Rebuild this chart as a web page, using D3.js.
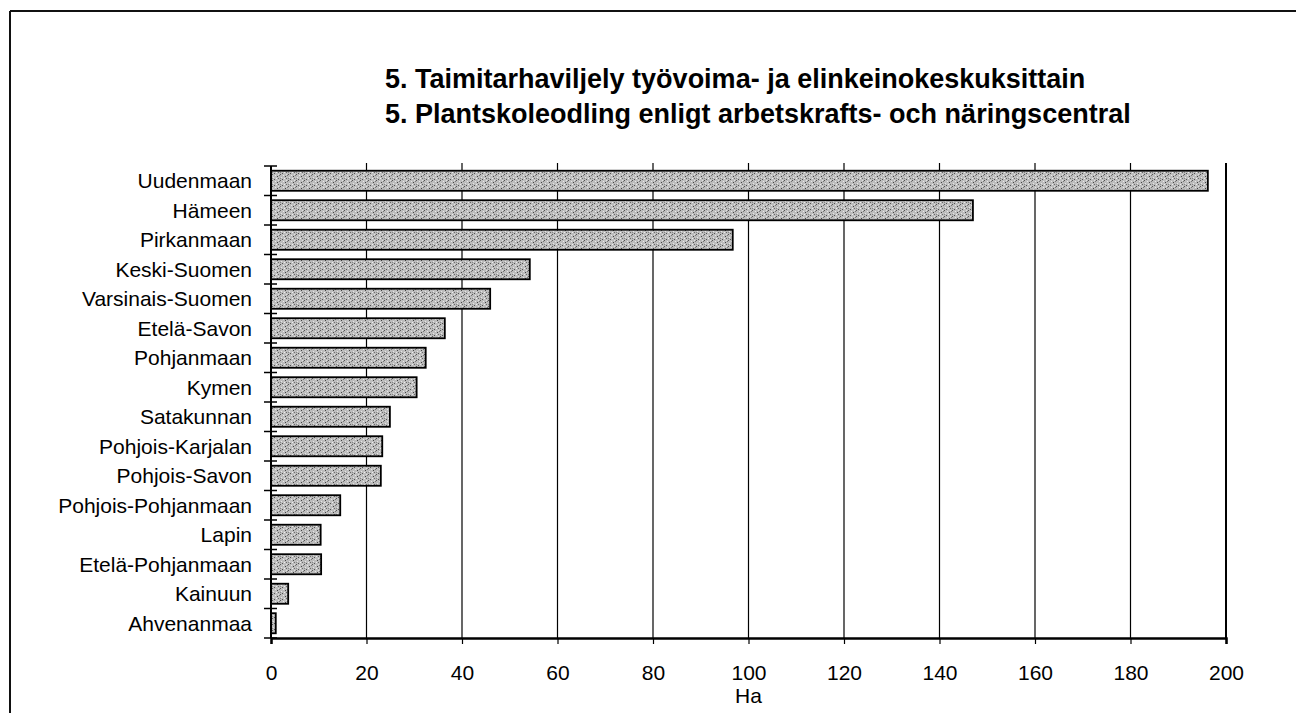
<!DOCTYPE html>
<html>
<head>
<meta charset="utf-8">
<script src="https://cdn.jsdelivr.net/npm/d3@7"></script>
<style>
  html, body { margin: 0; padding: 0; background: #fff; }
  svg { display: block; }
  text { font-family: "Liberation Sans", Arial, Helvetica, sans-serif; fill: #000; }
</style>
</head>
<body>
<svg id="chart" width="1296" height="713"></svg>
<script>
const titleLines = [
  "5. Taimitarhaviljely työvoima- ja elinkeinokeskuksittain",
  "5. Plantskoleodling enligt arbetskrafts- och näringscentral"
];
const categories = [
  "Uudenmaan", "Hämeen", "Pirkanmaan", "Keski-Suomen", "Varsinais-Suomen",
  "Etelä-Savon", "Pohjanmaan", "Kymen", "Satakunnan", "Pohjois-Karjalan",
  "Pohjois-Savon", "Pohjois-Pohjanmaan", "Lapin", "Etelä-Pohjanmaan",
  "Kainuun", "Ahvenanmaa"
];
const values = [196.2, 147.0, 96.7, 54.2, 45.9, 36.4, 32.4, 30.5, 24.9, 23.3, 23.0, 14.5, 10.4, 10.5, 3.6, 1.0];
const xTicks = [0, 20, 40, 60, 80, 100, 120, 140, 160, 180, 200];
const xAxisTitle = "Ha";

(function () {
const svg = d3.select("#chart");

// Texture pattern for bars (stippled gray)
const defs = svg.append("defs");
const pat = defs.append("pattern")
  .attr("id", "stipple").attr("patternUnits", "userSpaceOnUse")
  .attr("width", 8).attr("height", 6);
pat.append("rect").attr("width", 8).attr("height", 6).attr("fill", "#bdbdbd");
[[0,0,"#555"],[3,1,"#e8e8e8"],[5,2,"#444"],[1,3,"#e4e4e4"],[6,4,"#6a6a6a"],[2,5,"#505050"],[4,4,"#efefef"],[7,1,"#777"],[6,0,"#e0e0e0"],[0,4,"#888"]]
  .forEach(([px, py, c]) => pat.append("rect").attr("x", px).attr("y", py).attr("width", 1).attr("height", 1).attr("fill", c));

// Frame
svg.append("line").attr("x1", 10).attr("y1", 11).attr("x2", 1296).attr("y2", 11)
  .attr("stroke", "#111").attr("stroke-width", 2);
svg.append("line").attr("x1", 10).attr("y1", 11).attr("x2", 10).attr("y2", 713)
  .attr("stroke", "#111").attr("stroke-width", 2);

// Title
svg.selectAll("text.title").data(titleLines).enter().append("text")
  .attr("class", "title")
  .attr("x", 385).attr("y", (d, i) => 88 + i * 35)
  .attr("font-size", 27).attr("font-weight", "bold")
  .text(d => d);

const pLeft = 271, pRight = 1226, pTop = 166, pBottom = 638;

const x = d3.scaleLinear().domain([0, 200]).range([pLeft, pRight]);
const y = d3.scaleBand().domain(categories).range([pTop, pBottom])
  .paddingInner(0.32).paddingOuter(0.16);

// Gridlines
svg.append("g").selectAll("line").data(xTicks.filter(t => t > 0)).enter().append("line")
  .attr("x1", d => x(d)).attr("x2", d => x(d))
  .attr("y1", pTop - 3).attr("y2", pBottom)
  .attr("stroke", "#000").attr("stroke-width", d => d === 200 ? 2 : 1.2);

// Bars
svg.append("g").selectAll("rect").data(values).enter().append("rect")
  .attr("x", x(0))
  .attr("y", (d, i) => y(categories[i]))
  .attr("width", d => x(d) - x(0))
  .attr("height", y.bandwidth())
  .attr("fill", "url(#stipple)")
  .attr("stroke", "#000").attr("stroke-width", 1.8);

// Y axis line and boundary ticks
svg.append("line").attr("x1", x(0)).attr("x2", x(0)).attr("y1", pTop).attr("y2", pBottom)
  .attr("stroke", "#000").attr("stroke-width", 2);
const step = y.step();
const boundaries = categories.map(c => y(c) - step * y.paddingInner() / 2).concat([pBottom]);
svg.append("g").selectAll("line").data(boundaries).enter().append("line")
  .attr("x1", x(0) - 7).attr("x2", x(0) + 6)
  .attr("y1", d => d).attr("y2", d => d)
  .attr("stroke", "#000").attr("stroke-width", 1.5);

// Category labels
svg.append("g").selectAll("text").data(categories).enter().append("text")
  .attr("x", 252)
  .attr("y", d => y(d) + y.bandwidth() / 2)
  .attr("dy", "0.36em")
  .attr("text-anchor", "end")
  .attr("font-size", 21)
  .text(d => d);

// X axis
const xAxis = d3.axisBottom(x).tickValues(xTicks).tickSize(6).tickPadding(21)
  .tickFormat(d3.format("d"));
const gx = svg.append("g").attr("transform", `translate(0,${pBottom})`).call(xAxis);
gx.select(".domain").attr("stroke", "#000").attr("stroke-width", 2.5);
gx.selectAll(".tick line").attr("stroke", "#000").attr("stroke-width", 1.2);
gx.selectAll(".tick text").attr("font-size", 21)
  .attr("font-family", "'Liberation Sans', Arial, sans-serif").attr("fill", "#000");

svg.append("text").attr("x", x(100)).attr("y", 703)
  .attr("text-anchor", "middle").attr("font-size", 21).text(xAxisTitle);
})();
</script>
</body>
</html>
